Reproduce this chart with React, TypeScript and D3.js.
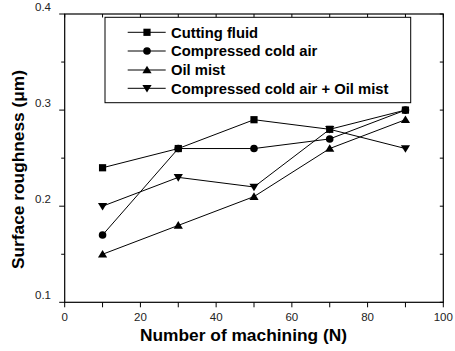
import React from "react";
import * as d3 from "d3";

const xValues = [10, 30, 50, 70, 90];
const cuttingFluid = [0.24, 0.26, 0.29, 0.28, 0.30];
const coldAir = [0.17, 0.26, 0.26, 0.27, 0.30];
const oilMist = [0.15, 0.18, 0.21, 0.26, 0.29];
const coldAirOilMist = [0.20, 0.23, 0.22, 0.28, 0.26];
const seriesNames = ["Cutting fluid", "Compressed cold air", "Oil mist", "Compressed cold air + Oil mist"];
const xTicks = [0, 20, 40, 60, 80, 100];
const yTicks = [0.1, 0.2, 0.3, 0.4];

const W = 455, H = 351;
const L = 64.7, R = 443.3, T = 14, B = 302.3;
const FONT = "'Liberation Sans', Arial, sans-serif";

function Marker({ kind, x, y }: { kind: number; x: number; y: number }) {
  if (kind === 0) return <rect x={x - 3.6} y={y - 3.6} width={7.2} height={7.2} fill="#000" />;
  if (kind === 1) return <circle cx={x} cy={y} r={3.8} fill="#000" />;
  if (kind === 2) return <path d={`M${x},${y - 4.3}L${x + 4.6},${y + 3.3}L${x - 4.6},${y + 3.3}Z`} fill="#000" />;
  return <path d={`M${x},${y + 4.3}L${x + 4.6},${y - 3.3}L${x - 4.6},${y - 3.3}Z`} fill="#000" />;
}

export default function App() {
  const x = d3.scaleLinear().domain([0, 100]).range([L, R]);
  const y = d3.scaleLinear().domain([0.1, 0.4]).range([B, T]);
  const series = [cuttingFluid, coldAir, oilMist, coldAirOilMist];
  const line = d3.line<number>().x((_, i) => x(xValues[i])).y((d) => y(d));
  const xAllTicks = d3.range(0, 101, 10);
  const yAll = d3.range(0, 7).map((i) => 0.1 + i * 0.05);

  const legY = [32.3, 51, 70, 88.3];

  return (
    <svg width={W} height={H} style={{ position: "absolute", left: 0, top: 0 }} fontFamily={FONT}>
      <rect width={W} height={H} fill="#fff" />
      <rect x={L} y={T} width={R - L} height={B - T} fill="none" stroke="#000" strokeWidth={1.2} />
      {xAllTicks.map((t) => (
        <line key={"xb" + t} x1={x(t)} x2={x(t)} y1={B} y2={B + 5} stroke="#000" strokeWidth={1} />
      ))}
      {xAllTicks.map((t) => (
        <line key={"xt" + t} x1={x(t)} x2={x(t)} y1={T} y2={T + 3.5} stroke="#000" strokeWidth={1} />
      ))}
      {yAll.map((t, i) => (
        <line key={"yl" + i} x1={L - (i % 2 === 0 ? 5.5 : 3.5)} x2={L} y1={y(t)} y2={y(t)} stroke="#000" strokeWidth={1} />
      ))}
      {yAll.map((t, i) => (
        <line key={"yr" + i} x1={R - 3.5} x2={R} y1={y(t)} y2={y(t)} stroke="#000" strokeWidth={1} />
      ))}
      {xTicks.map((t) => (
        <text key={"xl" + t} x={x(t)} y={321} fontSize={11.5} textAnchor="middle" fill="#222">{t}</text>
      ))}
      {yTicks.map((t) => (
        <text key={"yl" + t} x={51} y={y(t) - 3} fontSize={11.5} textAnchor="end" fill="#222">{t.toFixed(1)}</text>
      ))}
      <text x={243.5} y={341} fontSize={17} fontWeight="bold" textAnchor="middle" fill="#000" textLength={207} lengthAdjust="spacingAndGlyphs">Number of machining (N)</text>
      <text transform={`translate(23.5,169.5) rotate(-90)`} fontSize={16.5} fontWeight="bold" textAnchor="middle" fill="#000" textLength={199} lengthAdjust="spacingAndGlyphs">Surface roughness (μm)</text>
      {series.map((s, k) => (
        <g key={"s" + k}>
          <path d={line(s) || ""} fill="none" stroke="#000" strokeWidth={1} />
          {s.map((v, i) => <Marker key={i} kind={k} x={x(xValues[i])} y={y(v)} />)}
        </g>
      ))}
      <rect x={105} y={17.3} width={305.7} height={85.4} fill="#fff" stroke="#000" strokeWidth={1} />
      {seriesNames.map((n, k) => (
        <g key={"lg" + k}>
          <line x1={127.7} x2={165.7} y1={legY[k]} y2={legY[k]} stroke="#000" strokeWidth={1} />
          <Marker kind={k} x={147} y={legY[k]} />
          <text x={171} y={legY[k] + 5.3} fontSize={14.8} fontWeight="bold" fill="#000">{n}</text>
        </g>
      ))}
    </svg>
  );
}
